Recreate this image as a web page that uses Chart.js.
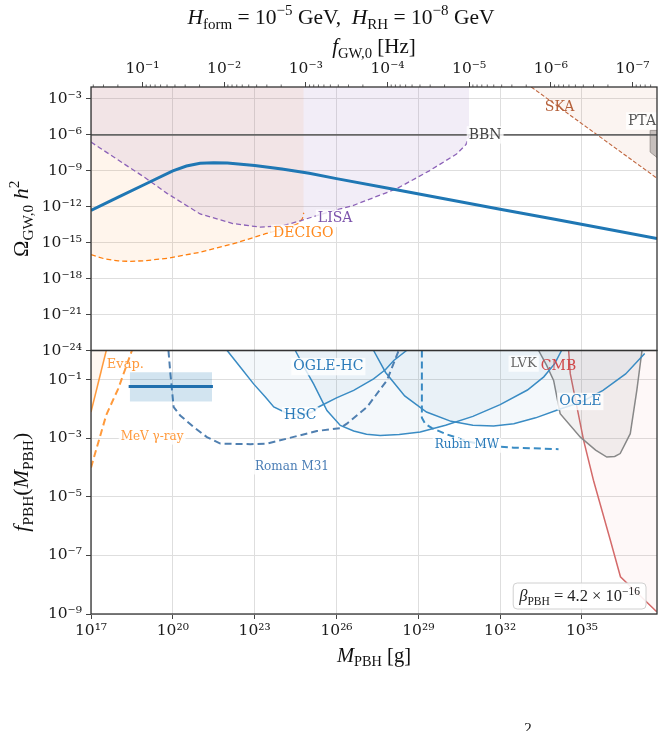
<!DOCTYPE html>
<html>
<head>
<meta charset="utf-8">
<script src="https://cdn.jsdelivr.net/npm/chart.js@4.4.1/dist/chart.umd.min.js"></script>
<style>
  html, body { margin: 0; padding: 0; background: #fff; }
  #wrap { width: 665px; height: 731px; }
</style>
</head>
<body>
<div id="wrap"><canvas id="pbhChart" width="665" height="731"></canvas></div>
<script>
// all values are log10 of the plotted quantity

// axis ranges and tick exponents
const massRange = [17, 37.75];
const freqRange = [-7.30, -0.37];
const omegaRange = [-24, -2];
const fpbhRange = [-9, 0];
const massTickExp = [17, 20, 23, 26, 29, 32, 35];
const freqTickExp = [-1, -2, -3, -4, -5, -6, -7];
const omegaTickExp = [-24, -21, -18, -15, -12, -9, -6, -3];
const fpbhTickExp = [-9, -7, -5, -3, -1];

// upper panel: Omega_GW,0 h^2
const gwLogM = [17, 18, 19, 20, 20.5, 21, 21.5, 22, 23, 24, 25, 26, 28, 30, 32, 34, 36, 37.75];
const gwLogOmega = [-12.3, -11.2, -10.1, -9.0, -8.6, -8.37, -8.32, -8.35, -8.55, -8.85, -9.2, -9.65, -10.5, -11.35, -12.2, -13.05, -13.9, -14.65];

const bbnLogM = [17, 37.75];
const bbnLogOmega = [-6, -6];

const lisaLogM = [17, 18, 19, 19.8, 21, 22.2, 23.2, 24.0, 24.7, 25.4, 26.1, 26.6, 28.2, 29.4, 30.4, 30.75, 30.86];
const lisaLogOmega = [-6.6, -8.1, -9.6, -10.9, -12.6, -13.4, -13.7, -13.6, -13.15, -12.65, -12.2, -11.9, -10.5, -9.0, -7.6, -6.8, -6.0];

const decigoLogM = [17, 17.5, 18.0, 18.45, 19, 19.8, 21, 22.2, 23.4, 24.2, 24.6, 24.75, 24.8];
const decigoLogOmega = [-16.0, -16.35, -16.52, -16.56, -16.5, -16.3, -15.8, -15.1, -14.25, -13.75, -13.4, -13.0, -12.5];

const skaLogM = [33.14, 37.77];
const skaLogOmega = [-2.0, -9.65];

const ptaLogM = [37.5, 37.8, 37.8, 37.5, 37.5];
const ptaLogOmega = [-5.62, -5.62, -7.98, -7.43, -5.62];

// lower panel: f_PBH
const pbhLogM = [18.38, 21.47];
const pbhLogF = [-1.23, -1.23];
const pbhBandLogM = [18.42, 21.44];
const pbhBandLow = [-1.74, -1.74];
const pbhBandHigh = -0.74;

const evapLogM = [17.0, 17.56];
const evapLogF = [-2.1, 0];

const mevLogM = [17.0, 17.56, 18.0, 18.5];
const mevLogF = [-4.0, -2.2, -1.3, 0];

const romanLogM = [19.84, 19.91, 20.03, 20.27, 20.76, 21.25, 21.74, 22.84, 23.45, 24.18, 25.28, 26.14, 26.38, 27.12, 27.85, 28.28];
const romanLogF = [0, -0.79, -1.93, -2.22, -2.61, -2.96, -3.18, -3.2, -3.18, -3.01, -2.75, -2.65, -2.5, -1.93, -1.02, 0];

const hscLogM = [21.99, 22.5, 22.96, 23.4, 23.7, 24.2, 24.7, 25.1, 25.34, 26.0, 26.63, 27.36, 27.8, 28.1, 28.57];
const hscLogF = [0, -0.6, -1.14, -1.6, -1.93, -2.15, -2.2, -2.1, -1.93, -1.62, -1.36, -0.97, -0.65, -0.34, 0];

const ogleHcLogM = [24.49, 24.8, 25.16, 25.65, 26.14, 26.63, 27.1, 27.6, 28.3, 29.07, 30.0, 31.0, 32.0, 33.0, 33.6, 34.0, 34.25];
const ogleHcLogF = [0, -0.55, -1.14, -2.05, -2.56, -2.75, -2.86, -2.9, -2.87, -2.78, -2.55, -2.25, -1.85, -1.35, -0.9, -0.45, 0];

const ogleLogM = [27.36, 27.8, 28.5, 29.3, 30.2, 31.0, 31.76, 32.5, 33.3, 34.2, 35.0, 35.77, 36.6, 37.3];
const ogleLogF = [0, -0.75, -1.55, -2.1, -2.42, -2.55, -2.58, -2.5, -2.3, -2.0, -1.75, -1.36, -0.8, -0.1];

const rubinLogM = [29.13, 29.13, 29.25, 29.5, 30.0, 30.8, 31.5, 32.5, 34.14];
const rubinLogF = [0, -2.3, -2.5, -2.65, -2.85, -3.1, -3.25, -3.32, -3.37];

const lvkLogM = [33.41, 33.7, 33.96, 34.2, 34.94, 35.5, 35.91, 36.2, 36.4, 36.77, 37.01, 37.2];
const lvkLogF = [0, -0.5, -1.02, -2.16, -2.96, -3.4, -3.64, -3.62, -3.52, -2.84, -1.36, 0];

const cmbLogM = [34.51, 34.57, 35.06, 35.42, 36.04, 36.41, 37.74];
const cmbLogF = [0, -0.79, -3.07, -4.43, -6.48, -7.73, -8.92];

// text annotations
const annoText = ['BBN', 'LISA', 'DECIGO', 'SKA', 'PTA', 'Evap.', 'MeV γ-ray', 'Roman M31', 'HSC', 'OGLE-HC', 'Rubin MW', 'LVK', 'CMB', 'OGLE'];
const annoLogM = [31.45, 25.95, 24.78, 34.18, 37.2, 18.26, 19.24, 24.37, 24.67, 25.7, 30.78, 32.86, 34.14, 34.94];
const annoLogY = [-6.0, -12.97, -14.22, -3.72, -4.84, -0.49, -2.96, -3.98, -2.22, -0.55, -3.24, -0.45, -0.55, -1.74];
const annoPanel = ['yTop', 'yTop', 'yTop', 'yTop', 'yTop', 'yBot', 'yBot', 'yBot', 'yBot', 'yBot', 'yBot', 'yBot', 'yBot', 'yBot'];

const betaText = [['β', 'i'], ['PBH', 'b'], [' = 4.2 × 10', 'r'], ['−16', 'p']];

const annoColor = ['#444444', '#7b52ab', '#ff8a1f', '#b5603a', '#555555', '#ff9a3c', '#ff9a3c', '#4a7db5', '#2b7bba', '#2b7bba', '#2b7bba', '#666666', '#d0484a', '#2b7bba'];
const annoSize = [14, 14, 14, 14, 14, 13, 12, 12, 14, 14, 12, 13, 14, 14];
const annoBox = [true, true, true, false, true, false, true, true, true, true, true, true, false, true];

const SERIF = '"Liberation Serif", "DejaVu Serif", serif';
const LABEL_FONT = '"DejaVu Serif", serif';

function logPts(xs, ys) {
  return xs.map((x, i) => ({ x: Math.pow(10, x), y: Math.pow(10, ys[i]) }));
}

const SUP = { '-': '⁻', '0': '⁰', '1': '¹', '2': '²', '3': '³', '4': '⁴', '5': '⁵', '6': '⁶', '7': '⁷', '8': '⁸', '9': '⁹' };
function tenPow(e) {
  return '10' + String(e).split('').map(ch => SUP[ch]).join('');
}

// rich text: segments [text, kind], kind r = roman, i = italic, b = subscript, p = superscript
function segFont(kind, size) {
  const s = (kind === 'b' || kind === 'p') ? size * 0.7 : size;
  return (kind === 'i' ? 'italic ' : '') + s.toFixed(1) + 'px ' + SERIF;
}
function richWidth(c, segs, size) {
  let w = 0;
  segs.forEach(([t, k]) => { c.font = segFont(k, size); w += c.measureText(t).width; });
  return w;
}
function drawRich(c, segs, x, y, size, color) {
  // x,y = center of the text
  const w = richWidth(c, segs, size);
  let cx = x - w / 2;
  const base = y + size * 0.33;
  c.fillStyle = color;
  c.textAlign = 'left';
  c.textBaseline = 'alphabetic';
  segs.forEach(([t, k]) => {
    c.font = segFont(k, size);
    let dy = 0;
    if (k === 'b') dy = size * 0.22;
    if (k === 'p') dy = -size * 0.42;
    c.fillText(t, cx, base + dy);
    cx += c.measureText(t).width;
  });
}

const lineBase = { pointRadius: 0, pointHoverRadius: 0, tension: 0, fill: false };

const datasets = [
  // upper panel
  { ...lineBase, label: 'GW', data: logPts(gwLogM, gwLogOmega), yAxisID: 'yTop', borderColor: '#1f77b4', borderWidth: 3 },
  { ...lineBase, label: 'BBN', data: logPts(bbnLogM, bbnLogOmega), yAxisID: 'yTop', borderColor: '#666666', borderWidth: 1.6 },
  { ...lineBase, label: 'LISA', data: logPts(lisaLogM, lisaLogOmega), yAxisID: 'yTop', borderColor: '#8c62b8', borderWidth: 1.3, borderDash: [5, 3], fill: 'end', backgroundColor: 'rgba(148,103,189,0.12)' },
  { ...lineBase, label: 'DECIGO', data: logPts(decigoLogM, decigoLogOmega), yAxisID: 'yTop', borderColor: '#ff7f0e', borderWidth: 1.3, borderDash: [5, 3], fill: 'end', backgroundColor: 'rgba(255,127,14,0.08)' },
  { ...lineBase, label: 'SKA', data: logPts(skaLogM, skaLogOmega), yAxisID: 'yTop', borderColor: '#c0663f', borderWidth: 1.1, borderDash: [4, 2], fill: 'end', backgroundColor: 'rgba(192,102,63,0.07)' },
  { ...lineBase, label: 'PTA', data: logPts(ptaLogM, ptaLogOmega), yAxisID: 'yTop', borderColor: '#9a9a9a', borderWidth: 1, fill: 'shape', backgroundColor: 'rgba(128,128,128,0.45)' },
  // lower panel
  { ...lineBase, label: 'PBH', data: logPts(pbhLogM, pbhLogF), yAxisID: 'yBot', borderColor: '#1f6fae', borderWidth: 3 },
  { ...lineBase, label: 'PBH band', data: logPts(pbhBandLogM, pbhBandLow), yAxisID: 'yBot', borderWidth: 0, borderColor: 'rgba(0,0,0,0)', fill: { value: Math.pow(10, pbhBandHigh) }, backgroundColor: 'rgba(31,119,180,0.2)' },
  { ...lineBase, label: 'Evap.', data: logPts(evapLogM, evapLogF), yAxisID: 'yBot', borderColor: '#ff9a3c', borderWidth: 1.5, fill: 'end', backgroundColor: 'rgba(255,127,14,0.06)' },
  { ...lineBase, label: 'MeV', data: logPts(mevLogM, mevLogF), yAxisID: 'yBot', borderColor: '#ff9a3c', borderWidth: 2, borderDash: [7, 4] },
  { ...lineBase, label: 'Roman M31', data: logPts(romanLogM, romanLogF), yAxisID: 'yBot', borderColor: '#4f7fb0', borderWidth: 2, borderDash: [7, 4] },
  { ...lineBase, label: 'HSC', data: logPts(hscLogM, hscLogF), yAxisID: 'yBot', borderColor: '#3a8cc4', borderWidth: 1.5, fill: 'end', backgroundColor: 'rgba(31,119,180,0.05)' },
  { ...lineBase, label: 'OGLE-HC', data: logPts(ogleHcLogM, ogleHcLogF), yAxisID: 'yBot', borderColor: '#3a8cc4', borderWidth: 1.5, fill: 'end', backgroundColor: 'rgba(31,119,180,0.05)' },
  { ...lineBase, label: 'OGLE', data: logPts(ogleLogM, ogleLogF), yAxisID: 'yBot', borderColor: '#3a8cc4', borderWidth: 1.5, fill: 'end', backgroundColor: 'rgba(31,119,180,0.05)' },
  { ...lineBase, label: 'Rubin MW', data: logPts(rubinLogM, rubinLogF), yAxisID: 'yBot', borderColor: '#3a8cc4', borderWidth: 2, borderDash: [7, 4] },
  { ...lineBase, label: 'LVK', data: logPts(lvkLogM, lvkLogF), yAxisID: 'yBot', borderColor: '#888888', borderWidth: 1.5, fill: 'end', backgroundColor: 'rgba(127,127,127,0.1)' },
  { ...lineBase, label: 'CMB', data: logPts(cmbLogM, cmbLogF), yAxisID: 'yBot', borderColor: '#d46a6a', borderWidth: 1.5, fill: 'end', backgroundColor: 'rgba(214,39,40,0.03)' }
];

const tickFont = { family: '"DejaVu Serif", serif', size: 15.5 };

function majorTicks(exps) {
  return (scale) => { scale.ticks = exps.map(e => ({ value: Math.pow(10, e) })); };
}
function expLabel(v) { return tenPow(Math.round(Math.log10(v))); }

const panelPlugin = {
  id: 'panels',
  beforeDatasetDraw(chart, args) {
    const a = chart.chartArea, ys = args.meta.yScale, c = chart.ctx;
    c.save();
    c.beginPath();
    c.rect(a.left, ys.top, a.right - a.left, ys.bottom - ys.top);
    c.clip();
  },
  afterDatasetDraw(chart) {
    chart.ctx.restore();
  },
  afterDraw(chart) {
    const c = chart.ctx, a = chart.chartArea, sx = chart.scales.x, st = chart.scales.xTop;

    // annotations
    annoText.forEach((t, i) => {
      const ys = chart.scales[annoPanel[i]];
      const px = sx.getPixelForValue(Math.pow(10, annoLogM[i]));
      const py = ys.getPixelForValue(Math.pow(10, annoLogY[i]));
      c.font = annoSize[i] + 'px ' + LABEL_FONT;
      const w = c.measureText(t).width;
      if (annoBox[i]) {
        c.fillStyle = 'rgba(255,255,255,0.8)';
        c.fillRect(px - w / 2 - 2, py - annoSize[i] * 0.62, w + 4, annoSize[i] * 1.24);
      }
      c.fillStyle = annoColor[i];
      c.textAlign = 'center';
      c.textBaseline = 'middle';
      c.fillText(t, px, py);
    });

    // minor ticks on the frequency axis
    c.strokeStyle = '#444';
    c.lineWidth = 0.8;
    for (let n = -8; n <= 0; n++) {
      for (let k = 2; k <= 9; k++) {
        const v = k * Math.pow(10, n);
        if (v < st.min || v > st.max) continue;
        const px = st.getPixelForValue(v);
        c.beginPath();
        c.moveTo(px, a.top);
        c.lineTo(px, a.top - 2.5);
        c.stroke();
      }
    }

    // panel frames
    c.strokeStyle = '#333';
    c.lineWidth = 1.3;
    ['yTop', 'yBot'].forEach(id => {
      const s = chart.scales[id];
      c.strokeRect(a.left, s.top, a.right - a.left, s.bottom - s.top);
    });

    // beta box
    const bSize = 16.5;
    const bw = richWidth(c, betaText, bSize) + 12;
    const bh = 26;
    const bx = a.right - 11 - bw, by = a.bottom - 5 - bh;
    c.fillStyle = 'rgba(255,255,255,0.9)';
    c.strokeStyle = '#d0d0d0';
    c.lineWidth = 1;
    c.beginPath();
    c.roundRect(bx, by, bw, bh, 4);
    c.fill();
    c.stroke();
    drawRich(c, betaText, bx + bw / 2, by + bh / 2, bSize, '#222');

    // titles
    drawRich(c, [['H', 'i'], ['form', 'b'], [' = 10', 'r'], ['−5', 'p'], [' GeV,  ', 'r'], ['H', 'i'], ['RH', 'b'], [' = 10', 'r'], ['−8', 'p'], [' GeV', 'r']], 341, 17, 21.5, '#111');
    drawRich(c, [['f', 'i'], ['GW,0', 'b'], [' [Hz]', 'r']], (a.left + a.right) / 2, 46, 21, '#111');
    drawRich(c, [['M', 'i'], ['PBH', 'b'], [' [g]', 'r']], (a.left + a.right) / 2, 655, 20.5, '#111');

    const yt = chart.scales.yTop, yb = chart.scales.yBot;
    c.save();
    c.translate(21, (yt.top + yt.bottom) / 2);
    c.rotate(-Math.PI / 2);
    drawRich(c, [['Ω', 'r'], ['GW,0', 'b'], [' ', 'r'], ['h', 'i'], ['2', 'p']], 0, 0, 22, '#111');
    c.restore();
    c.save();
    c.translate(21, (yb.top + yb.bottom) / 2);
    c.rotate(-Math.PI / 2);
    drawRich(c, [['f', 'i'], ['PBH', 'b'], ['(', 'r'], ['M', 'i'], ['PBH', 'b'], [')', 'r']], 0, 0, 22, '#111');
    c.restore();

    // cut-off text at the bottom edge
    c.font = '15px ' + SERIF;
    c.fillStyle = '#111';
    c.textAlign = 'center';
    c.textBaseline = 'alphabetic';
    c.fillText('2', 528, 733);
  }
};

const chart = new Chart(document.getElementById('pbhChart').getContext('2d'), {
  type: 'line',
  data: { datasets: datasets },
  options: {
    responsive: false,
    animation: false,
    devicePixelRatio: 1,
    layout: { padding: { left: 0, right: 8, top: 0, bottom: 0 } },
    plugins: { legend: { display: false }, tooltip: { enabled: false }, title: { display: false } },
    scales: {
      x: {
        type: 'logarithmic', position: 'bottom',
        min: Math.pow(10, massRange[0]), max: Math.pow(10, massRange[1]),
        afterBuildTicks: majorTicks(massTickExp),
        afterFit: s => { s.height = 117; },
        ticks: { callback: expLabel, font: tickFont, color: '#1a1a1a', autoSkip: false, maxRotation: 0, padding: 3 },
        grid: { color: '#dedede', lineWidth: 1, tickLength: 5, tickColor: '#444' },
        border: { display: false }
      },
      xTop: {
        type: 'logarithmic', position: 'top', reverse: true,
        min: Math.pow(10, freqRange[0]), max: Math.pow(10, freqRange[1]),
        afterBuildTicks: majorTicks(freqTickExp),
        afterFit: s => { s.height = 87; },
        ticks: { callback: expLabel, font: tickFont, color: '#1a1a1a', autoSkip: false, maxRotation: 0, padding: 4 },
        grid: { drawOnChartArea: false, tickLength: 5, tickColor: '#444' },
        border: { display: false }
      },
      yBot: {
        type: 'logarithmic', position: 'left', stack: 'panels', stackWeight: 1,
        min: Math.pow(10, fpbhRange[0]), max: Math.pow(10, fpbhRange[1]),
        afterBuildTicks: majorTicks(fpbhTickExp),
        afterFit: s => { s.width = 91; },
        ticks: { callback: expLabel, font: tickFont, color: '#1a1a1a', autoSkip: false, padding: 4 },
        grid: { color: '#dedede', lineWidth: 1, tickLength: 5, tickColor: '#444' },
        border: { display: false }
      },
      yTop: {
        type: 'logarithmic', position: 'left', stack: 'panels', stackWeight: 1,
        min: Math.pow(10, omegaRange[0]), max: Math.pow(10, omegaRange[1]),
        afterBuildTicks: majorTicks(omegaTickExp),
        afterFit: s => { s.width = 91; },
        ticks: { callback: expLabel, font: tickFont, color: '#1a1a1a', autoSkip: false, padding: 4 },
        grid: { color: '#dedede', lineWidth: 1, tickLength: 5, tickColor: '#444' },
        border: { display: false }
      }
    }
  },
  plugins: [panelPlugin]
});
</script>
</body>
</html>
